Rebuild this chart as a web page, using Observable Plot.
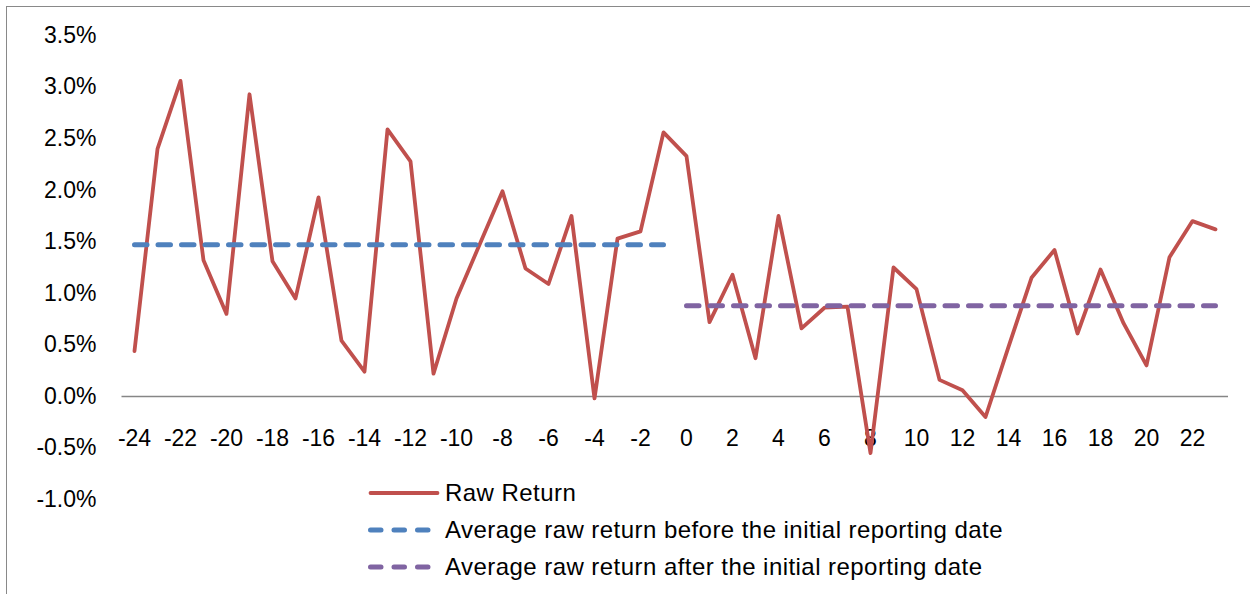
<!DOCTYPE html>
<html><head><meta charset="utf-8">
<script src="https://cdn.jsdelivr.net/npm/d3@7"></script>
<script src="https://cdn.jsdelivr.net/npm/@observablehq/plot@0.6"></script>
<style>
html,body{margin:0;padding:0;background:#fff;overflow:hidden;}
#wrap{position:relative;width:1250px;height:594px;overflow:hidden;font-family:"Liberation Sans",Arial,sans-serif;background:#fff;}
#frame{position:absolute;left:5.5px;top:6px;width:1400px;height:800px;border:1.3px solid #898989;box-sizing:border-box;}
#chart{position:absolute;left:0;top:0;}
#legend{position:absolute;left:368px;top:474px;font-size:24px;letter-spacing:0.45px;color:#000;}
.row{display:flex;align-items:center;height:37.3px;white-space:nowrap;}
.row svg{margin-right:5px;flex:none;}
</style></head><body>
<div id="wrap"><div id="frame"></div><div id="chart"></div><div id="legend"></div></div>
<script>
// Event-time periods (months relative to the initial reporting date)
const periods = [-24,-23,-22,-21,-20,-19,-18,-17,-16,-15,-14,-13,-12,-11,-10,-9,-8,-7,-6,-5,-4,-3,-2,-1,
                 0,1,2,3,4,5,6,7,8,9,10,11,12,13,14,15,16,17,18,19,20,21,22,23];
// Raw return (%)
const rawReturn = [0.44,2.40,3.06,1.32,0.80,2.93,1.31,0.95,1.93,0.54,0.24,2.59,2.28,0.22,0.95,1.47,1.99,1.24,1.09,1.75,-0.02,1.53,1.60,2.56,
                   2.33,0.72,1.18,0.37,1.75,0.66,0.86,0.87,-0.55,1.25,1.04,0.16,0.06,-0.20,0.48,1.15,1.42,0.61,1.23,0.71,0.30,1.35,1.70,1.62];
// Average raw return (%) before / after the initial reporting date
const avgBefore = 1.47;
const avgAfter = 0.88;
// Tick labels
const xTickLabels = [-24,-22,-20,-18,-16,-14,-12,-10,-8,-6,-4,-2,0,2,4,6,8,10,12,14,16,18,20,22];
const yTicks = [-1.0,-0.5,0.0,0.5,1.0,1.5,2.0,2.5,3.0,3.5];
const seriesNames = ["Raw Return","Average raw return before the initial reporting date","Average raw return after the initial reporting date"];
const seriesColors = ["#C0504D","#4F81BD","#8064A2"];

const raw = periods.map((p,i)=>({p, v: rawReturn[i]}));
const before = periods.filter(p=>p<0).map(p=>({p, v: avgBefore}));
const after = periods.filter(p=>p>=0).map(p=>({p, v: avgAfter}));

const font = '"Liberation Sans",Arial,sans-serif';
const chart = Plot.plot({
  width:1250, height:594,
  marginLeft:121.5, marginRight:22, marginTop:35, marginBottom:95,
  style:{fontFamily:font, fontSize:"23px", color:"#000", background:"transparent", overflow:"visible"},
  x:{type:"point", domain:periods, padding:0.5, axis:null},
  y:{domain:[-1,3.5], axis:null},
  marks:[
    Plot.axisY(yTicks, {tickSize:0, tickPadding:25.5, tickFormat:d=>d.toFixed(1)+"%", fontSize:23, fill:"#000", label:null}),
    Plot.ruleY([0], {stroke:"#868686", strokeWidth:1.5}),
    Plot.text(xTickLabels, {x:d=>d, y:0, dy:42, text:d=>String(d), fontSize:23, fill:"#000"}),
    Plot.line(raw, {x:"p", y:"v", stroke:seriesColors[0], strokeWidth:3.8, strokeLinejoin:"round", strokeLinecap:"round"}),
    Plot.line(before, {x:"p", y:"v", stroke:seriesColors[1], strokeWidth:5, strokeDasharray:"12.5,11", strokeLinecap:"round"}),
    Plot.line(after, {x:"p", y:"v", stroke:seriesColors[2], strokeWidth:5, strokeDasharray:"12.5,11", strokeLinecap:"round"})
  ]
});
document.getElementById("chart").appendChild(chart);

// Legend
const legend = d3.select("#legend");
seriesNames.forEach((name,i)=>{
  const row = legend.append("div").attr("class","row");
  const s = row.append("svg").attr("width",72).attr("height",12);
  const ln = s.append("line").attr("x1",2.5).attr("x2",69.5).attr("y1",6).attr("y2",6)
    .attr("stroke",seriesColors[i]).attr("stroke-linecap","round");
  if (i===0) { ln.attr("stroke-width",3.8); }
  else { ln.attr("stroke-width",5).attr("stroke-dasharray","10.5,13"); }
  row.append("span").text(name);
});
</script>
</body></html>
